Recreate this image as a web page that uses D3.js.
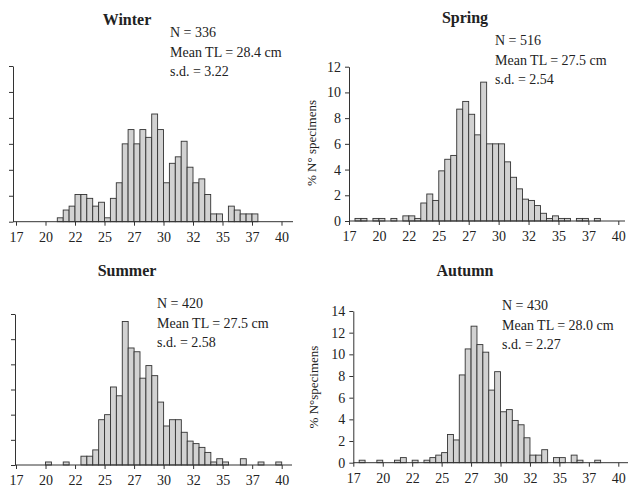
<!DOCTYPE html>
<html>
<head>
<meta charset="utf-8">
<script src="https://cdn.jsdelivr.net/npm/d3@7"></script>
<style>
  body { margin: 0; background: #fff; }
  svg { display: block; }
  text { font-family: "Liberation Serif", "Times New Roman", serif; fill: #222; }
</style>
</head>
<body>
<div id="container"></div>
<script>
// length classes, 0.5 cm wide, lower edge of each class (cm)
const binStarts = d3.range(46).map(i => 17.5 + i * 0.5)
const xTicks = [17.5, 20, 22.5, 25, 27.5, 30, 32.5, 35, 37.5, 40]

// % of specimens per class, keyed by class index (0 = 17.5 cm)
const winterValues = { 7: 0.3, 8: 0.9, 9: 1.2, 10: 2.1, 11: 2.1, 12: 1.8, 13: 1.2, 14: 1.5, 15: 0.3,
  16: 1.8, 17: 3.0, 18: 6.0, 19: 7.1, 20: 6.0, 21: 7.1, 22: 6.5, 23: 8.3, 24: 7.1, 25: 3.0,
  26: 4.5, 27: 5.0, 28: 6.2, 29: 4.2, 30: 3.0, 31: 3.3, 32: 2.1, 33: 0.6, 34: 0.6,
  36: 1.2, 37: 0.9, 38: 0.6, 39: 0.6, 40: 0.6 }
const springValues = { 1: 0.2, 2: 0.2, 4: 0.2, 5: 0.2, 7: 0.2, 9: 0.4, 10: 0.4, 11: 0.2,
  12: 1.4, 13: 2.1, 14: 1.6, 15: 3.9, 16: 4.8, 17: 5.1, 18: 8.7, 19: 9.3, 20: 8.3, 21: 6.7,
  22: 10.8, 23: 6.0, 24: 6.0, 25: 6.0, 26: 4.6, 27: 3.4, 28: 2.5, 29: 1.7, 30: 1.6, 31: 1.2,
  32: 0.6, 33: 0.2, 34: 0.4, 35: 0.2, 36: 0.2, 38: 0.2, 39: 0.2, 41: 0.2 }
const summerValues = { 5: 0.24, 8: 0.24, 11: 0.7, 12: 0.7, 13: 1.2, 14: 3.6, 15: 4.0, 16: 6.2,
  17: 5.5, 18: 11.4, 19: 9.3, 20: 9.0, 21: 6.9, 22: 7.9, 23: 7.1, 24: 5.0, 25: 3.1, 26: 3.6,
  27: 3.6, 28: 2.6, 29: 1.9, 30: 1.7, 31: 1.4, 32: 1.0, 33: 0.24, 34: 0.5, 35: 0.24,
  38: 0.5, 41: 0.24, 44: 0.24 }
const autumnValues = { 1: 0.23, 4: 0.23, 7: 0.23, 8: 0.47, 10: 0.23, 12: 0.23, 13: 0.47,
  14: 0.7, 15: 0.93, 16: 2.6, 17: 2.1, 18: 8.1, 19: 10.5, 20: 12.6, 21: 10.9, 22: 10.2,
  23: 6.7, 24: 8.4, 25: 4.7, 26: 4.9, 27: 3.9, 28: 3.5, 29: 2.3, 30: 0.7, 31: 0.7, 32: 1.2,
  34: 0.47, 35: 0.47, 37: 0.7, 38: 0.23, 41: 0.23 }

const seasons = ['Winter', 'Spring', 'Summer', 'Autumn']
const statLines = [
  ['N = 336', 'Mean TL = 28.4 cm', 's.d. = 3.22'],
  ['N = 516', 'Mean TL = 27.5 cm', 's.d. = 2.54'],
  ['N = 420', 'Mean TL = 27.5 cm', 's.d. = 2.58'],
  ['N = 430', 'Mean TL = 28.0 cm', 's.d. = 2.27']
]
const yMax = [12, 12, 12, 14]
const yTitles = ['', '% N° specimens', '', '% N°specimens']

// panel placement
const layout = [
  { x0: 16, x1: 281.5, left: 13, right: 293, y0: 221.7, yTop: 66, labels: false,
    title: [127, 25], stats: [170, 37] },
  { x0: 349, x1: 618.3, left: 349, right: 625, y0: 221, yTop: 66.7, labels: true,
    title: [465, 23], stats: [495, 45], yTitle: [311, 143] },
  { x0: 16, x1: 281.7, left: 15, right: 292, y0: 465, yTop: 314, labels: false,
    title: [127, 276], stats: [157, 308] },
  { x0: 353.3, x1: 618.3, left: 353.3, right: 628, y0: 462.7, yTop: 311, labels: true,
    title: [465, 276], stats: [502, 310], yTitle: [313, 387] }
]

const allValues = [winterValues, springValues, summerValues, autumnValues]

const svg = d3.select('#container')
  .append('svg')
  .attr('width', 629)
  .attr('height', 493)

seasons.forEach((season, k) => {
  const L = layout[k]
  const g = svg.append('g')

  const x = d3.scaleLinear().domain([17.5, 40]).range([L.x0, L.x1])
  const y = d3.scaleLinear().domain([0, yMax[k]]).range([L.y0, L.yTop])

  const bins = binStarts
    .map((b, i) => ({ b, v: allValues[k][i] || 0 }))
    .filter(d => d.v > 0)

  g.selectAll('rect')
    .data(bins)
    .enter()
    .append('rect')
    .attr('x', d => x(d.b))
    .attr('width', d => x(d.b + 0.5) - x(d.b))
    .attr('y', d => y(d.v))
    .attr('height', d => y(0) - y(d.v))
    .attr('fill', '#d2d2d2')
    .attr('stroke', '#333')
    .attr('stroke-width', 0.9)

  // x axis
  const xAxis = g.append('g')
    .attr('transform', `translate(0,${L.y0})`)
    .call(d3.axisBottom(x).tickValues(xTicks).tickFormat(d => Math.floor(d)).tickSize(4).tickPadding(6))
  xAxis.select('.domain').remove()
  xAxis.selectAll('line').attr('stroke', '#333')
  xAxis.selectAll('text').attr('font-size', 14).attr('font-family', '"Liberation Serif", serif').attr('fill', '#222')
  g.append('line')
    .attr('x1', L.left).attr('x2', L.right)
    .attr('y1', L.y0).attr('y2', L.y0)
    .attr('stroke', '#333')

  // y axis
  const yAxis = g.append('g')
    .attr('transform', `translate(${L.left},0)`)
    .call(d3.axisLeft(y).tickValues(d3.range(0, yMax[k] + 1, 2))
      .tickFormat(L.labels ? d3.format('d') : '').tickSize(4).tickSizeOuter(0).tickPadding(4))
  yAxis.select('.domain').attr('stroke', '#333')
  yAxis.selectAll('line').attr('stroke', '#333')
  yAxis.selectAll('text').attr('font-size', 14).attr('font-family', '"Liberation Serif", serif').attr('fill', '#222')

  // title
  g.append('text')
    .attr('x', L.title[0]).attr('y', L.title[1])
    .attr('text-anchor', 'middle')
    .attr('font-size', 16)
    .attr('font-weight', 'bold')
    .text(season)

  // stats
  g.selectAll('.stat')
    .data(statLines[k])
    .enter()
    .append('text')
    .attr('x', L.stats[0])
    .attr('y', (d, i) => L.stats[1] + i * 19.5)
    .attr('font-size', 14)
    .text(d => d)

  if (yTitles[k]) {
    g.append('text')
      .attr('transform', `translate(${L.yTitle[0]},${L.yTitle[1]}) rotate(-90)`)
      .attr('text-anchor', 'middle')
      .attr('dy', '0.35em')
      .attr('font-size', 13)
      .text(yTitles[k])
  }
})
</script>
</body>
</html>
